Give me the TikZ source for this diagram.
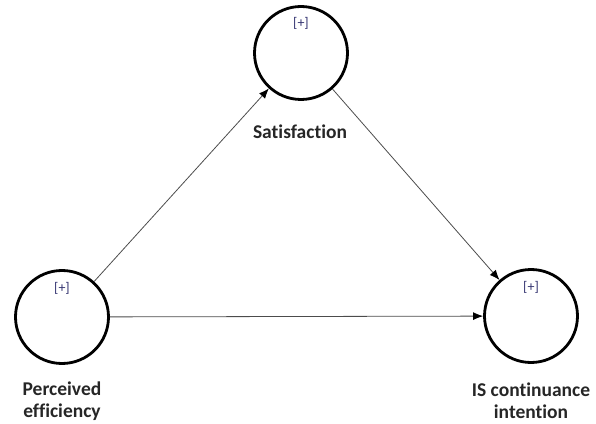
\documentclass[tikz,border=0pt]{standalone}
\usepackage{fontspec}
\setmainfont{Carlito}[Ligatures=NoCommon]
\usepackage{tikz}
\usetikzlibrary{positioning, arrows.meta}

\begin{document}
\begin{tikzpicture}
                [
                x=1pt, y=1pt,
                construct/.style={circle,draw,line width=2.8pt,minimum size=93pt,inner sep=0pt},
                plus/.style={font=\fontsize{14}{16}\selectfont,text=blue!30!black!80,inner sep=0pt},
                caption/.style={font=\bfseries\fontsize{19.5}{22}\selectfont,align=center,text=black!85},
                edge/.style={draw=black!70,line width=0.8pt,-{Latex[length=10pt,width=8pt,black]}}
                ]
            \useasboundingbox (0,0) rectangle (596,423);
            \node[construct] (sat) at (301,370) {};
            \node[construct] (pe) at (62,106) {};
            \node[construct] (isc) at (531,107) {};
            \node[plus,below=12pt of sat.north] (satplus) {[+]};
            \node[plus,below=13pt of pe.north] (peplus) {[+]};
            \node[plus,below=13pt of isc.north] (iscplus) {[+]};
            \node[caption] (satlabel) at (300,291) {Satisfaction};
            \node[caption] (pelabel) at (62,22) {Perceived\\efficiency};
            \node[caption] (isclabel) at (531,22) {IS continuance\\intention};
            \draw[edge] (pe) -- (sat);
            \draw[edge] (sat) -- (isc);
            \draw[edge] (pe) -- (isc);
            \end{tikzpicture}
\end{document}
